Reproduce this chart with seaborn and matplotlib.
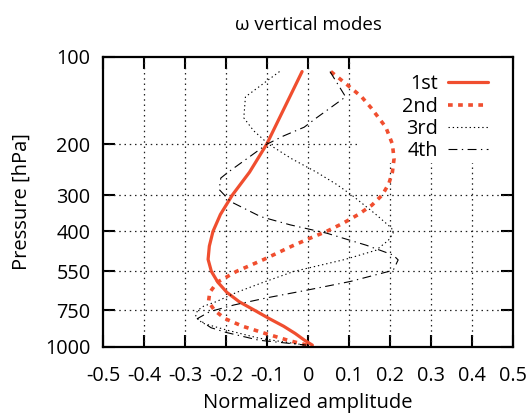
import numpy as np
import pandas as pd
import seaborn as sns
import matplotlib.pyplot as plt
from matplotlib.patches import Rectangle
from matplotlib.ticker import FixedLocator, NullLocator

# values (pressure in hPa, amplitude)
p_1st = [112.5, 137.5, 162.5, 200, 250, 300, 350, 400, 450, 500, 550, 600,
         650, 700, 750, 800, 850, 900, 950, 987.5]
amp_1st = [-0.015, -0.045, -0.070, -0.101, -0.143, -0.185, -0.214, -0.232,
           -0.241, -0.244, -0.236, -0.220, -0.198, -0.168, -0.130, -0.095,
           -0.060, -0.032, -0.009, 0.010]

p_2nd = [112.5, 125, 137.5, 150, 175, 200, 225, 250, 275, 300, 325, 350, 375,
         400, 425, 450, 500, 550, 600, 650, 700, 750, 800, 850, 900, 950, 987.5]
amp_2nd = [0.055, 0.095, 0.130, 0.153, 0.189, 0.205, 0.209, 0.205, 0.196,
           0.180, 0.155, 0.122, 0.085, 0.045, 0.0, -0.040, -0.108, -0.175,
           -0.222, -0.240, -0.243, -0.228, -0.203, -0.160, -0.105, -0.050,
           -0.003]

p_3rd = [112.5, 137.5, 162.5, 180, 200, 225, 250, 275, 300, 350, 390, 406,
         430, 465, 500, 550, 600, 650, 700, 725, 750, 790, 830, 875, 935, 987.5]
amp_3rd = [-0.070, -0.153, -0.157, -0.133, -0.097, -0.040, 0.020, 0.068,
           0.106, 0.165, 0.203, 0.207, 0.195, 0.165, 0.090, -0.035, -0.110,
           -0.175, -0.225, -0.255, -0.270, -0.275, -0.257, -0.200, -0.120,
           -0.007]

p_4th = [112.5, 137.5, 162.5, 175, 187.5, 200, 225, 250, 262, 287, 316, 356,
         380, 406, 447, 483, 502, 545, 596, 637, 678, 718, 757, 800, 860, 893,
         950, 987.5]
amp_4th = [0.053, 0.091, 0.020, -0.010, -0.060, -0.100, -0.150, -0.195,
           -0.213, -0.217, -0.189, -0.116, -0.044, 0.045, 0.142, 0.207, 0.219,
           0.207, 0.102, 0.0, -0.100, -0.181, -0.240, -0.270, -0.237, -0.200,
           -0.120, -0.005]

x_ticks = [-0.5, -0.4, -0.3, -0.2, -0.1, 0, 0.1, 0.2, 0.3, 0.4, 0.5]
x_tick_labels = ['-0.5', '-0.4', '-0.3', '-0.2', '-0.1', '0', '0.1', '0.2',
                 '0.3', '0.4', '0.5']
y_ticks = [100, 200, 300, 400, 550, 750, 1000]

red = '#f04e2f'

sns.set_theme(style='ticks')
plt.rcParams['font.family'] = ['Open Sans', 'DejaVu Sans']
plt.rcParams['text.color'] = 'black'
plt.rcParams['axes.labelcolor'] = 'black'

fig = plt.figure(figsize=(5.31, 4.16), dpi=100)
ax = fig.add_axes([0.194, 0.1666, 0.773, 0.697])

# grid drawn by hand so the key background can sit between grid and ticks
for xv in x_ticks[1:-1]:
    ax.axvline(xv, color='#222222', lw=0.9, ls=(0, (1.2, 3)), zorder=0.6)
for yv in y_ticks[1:-1]:
    ax.axhline(yv, color='#222222', lw=0.9, ls=(0, (1.2, 3)), zorder=0.6)
ax.add_patch(Rectangle((0.626, 0.633), 0.374, 0.367, transform=ax.transAxes,
                       facecolor='white', edgecolor='none', zorder=0.8))

sns.lineplot(x=amp_1st, y=p_1st, sort=False, estimator=None, ax=ax,
             color=red, lw=2.3, label='1st', zorder=2)
sns.lineplot(x=amp_2nd, y=p_2nd, sort=False, estimator=None, ax=ax,
             color=red, lw=2.6, linestyle=(0, (1.3, 1.5)), label='2nd', zorder=2)
sns.lineplot(x=amp_3rd, y=p_3rd, sort=False, estimator=None, ax=ax,
             color='black', lw=0.8, linestyle=(0, (1.2, 2.6)), label='3rd', zorder=2)
sns.lineplot(x=amp_4th, y=p_4th, sort=False, estimator=None, ax=ax,
             color='black', lw=0.8, linestyle=(0, (8, 4, 1.2, 4)), label='4th', zorder=2)

ax.set_yscale('log')
ax.set_ylim(1000, 100)
ax.set_xlim(-0.5, 0.5)
ax.yaxis.set_major_locator(FixedLocator(y_ticks))
ax.yaxis.set_minor_locator(NullLocator())
ax.set_yticklabels([str(v) for v in y_ticks])
ax.set_xticks(x_ticks)
ax.set_xticklabels(x_tick_labels)

ax.tick_params(direction='in', length=8.5, width=1.5, top=True, right=True,
               labelsize=14.3, colors='black')
ax.tick_params(axis='x', pad=14)
ax.tick_params(axis='y', pad=9)
for s in ax.spines.values():
    s.set_linewidth(1.6)
    s.set_color('black')

ax.set_xlabel('Normalized amplitude', fontsize=14.5, labelpad=5)
ax.set_ylabel('Pressure [hPa]', fontsize=14.5, labelpad=10)
ax.set_title('ω vertical modes', fontsize=13.5, pad=19)

handles, labels = ax.get_legend_handles_labels()
ax.legend(handles, labels, loc='upper right', markerfirst=False, frameon=False,
          bbox_to_anchor=(0.937, 0.94), borderaxespad=0, borderpad=0,
          handlelength=2.0, handletextpad=0.5, labelspacing=0.12, fontsize=14.3)

fig.savefig('out.png', dpi=100)
